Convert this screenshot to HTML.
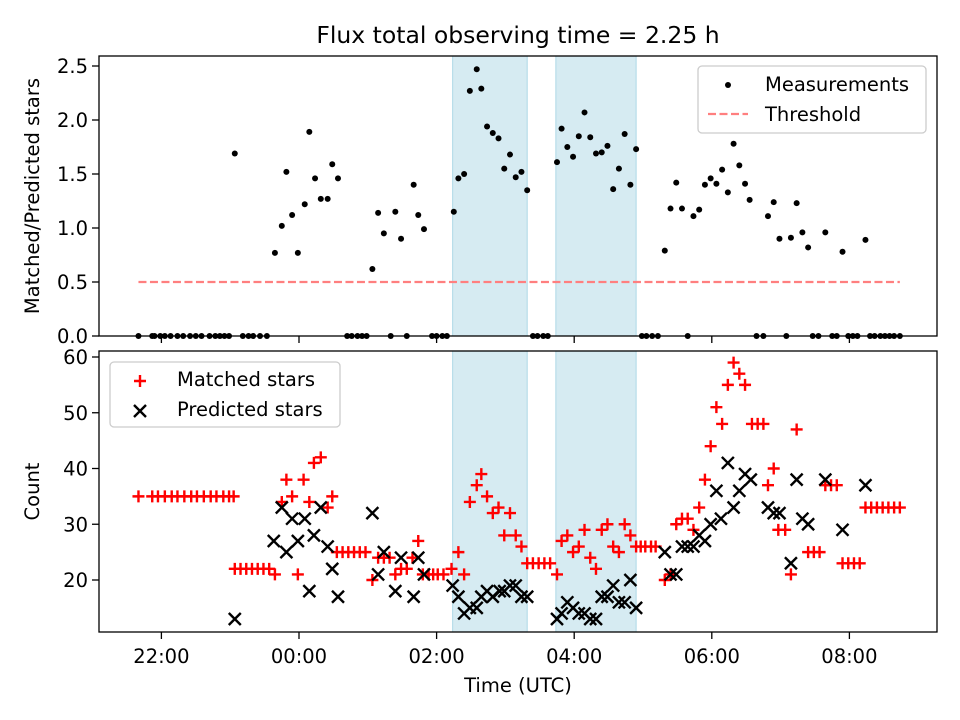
<!DOCTYPE html>
<html><head><meta charset="utf-8"><style>
body{margin:0;background:#fff}
svg{display:block;font-family:"DejaVu Sans","Liberation Sans",sans-serif}
</style></head><body>
<svg id="fig" width="960" height="720" viewBox="0 0 960 720">
<rect width="960" height="720" fill="#fff"/>
<text x="518" y="43" font-size="23.5" text-anchor="middle">Flux total observing time = 2.25 h</text>
<g id="topPanel"></g>
<g id="botPanel"></g>
</svg>
<script>
// times in minutes from 00:00 UTC
const ratioTimes=[-56,-21,-15,-11,-6,-1,5,9,14,19,25,29,34,64,69,74,84,89,100,104,109,135,139,144,149,155,159,164,169,174,179,184,189,194,199,225,229,234,239,244,249,254,259,264,269,274,279,284,289,294,319,324,329,334,344,349,354,359,364,369,374,379,384,389,393,409,414,419,429,434,439,444,459,474,494];
const ratioValues=[1.69,0.77,1.02,1.52,1.12,0.77,1.22,1.89,1.46,1.27,1.27,1.59,1.46,0.62,1.14,0.95,1.15,0.90,1.40,1.12,0.99,1.15,1.46,1.50,2.27,2.47,2.29,1.94,1.88,1.83,1.55,1.68,1.47,1.52,1.35,1.61,1.92,1.75,1.66,1.85,2.07,1.84,1.69,1.70,1.76,1.36,1.55,1.87,1.40,1.73,0.79,1.18,1.42,1.18,1.11,1.17,1.40,1.46,1.41,1.54,1.33,1.78,1.58,1.41,1.26,1.11,1.24,0.90,0.91,1.23,0.96,0.82,0.96,0.78,0.89];
const zeroTimes=[-140,-128,-126,-121,-117,-112,-106,-101,-95,-90,-85,-78,-73,-69,-65,-61,-49,-44,-40,-34,-28,42,46,51,55,59,80,94,116,120,125,129,204,208,213,217,299,303,308,313,339,399,405,425,448,453,465,469,479,483,487,498,502,507,511,515,519,524];
const thresholdValue=0.5;
const thresholdRange=[-140,524];
const shadedSpans=[[134,199],[224,294]];
const matchedTimes=[-140,-128,-123,-117,-111,-106,-100,-94,-89,-83,-77,-72,-66,-61,-57,-56,-51,-46,-41,-36,-31,-26,-21,-15,-11,-6,-1,4,9,13,19,25,29,33,38,43,48,53,58,64,69,74,79,84,89,94,99,104,108,113,117,121,126,133,139,144,149,155,159,164,169,174,179,184,189,194,199,204,209,214,219,225,229,234,239,244,249,254,259,264,269,274,279,284,289,294,298,302,307,311,319,324,329,334,339,344,349,354,359,364,369,374,379,384,389,395,400,405,409,414,418,424,429,434,444,449,454,459,464,469,474,479,484,489,494,499,504,509,514,519,524];
const matchedValues=[35,35,35,35,35,35,35,35,35,35,35,35,35,35,35,22,22,22,22,22,22,22,21,34,38,35,21,38,34,41,42,33,35,25,25,25,25,25,25,20,24,24,24,21,22,22,24,27,21,21,21,21,21,22,25,21,34,37,39,35,32,33,28,32,28,26,23,23,23,23,23,21,27,28,25,26,29,24,22,29,30,26,25,30,28,26,26,26,26,26,20,21,30,31,31,29,33,38,44,51,48,55,59,57,55,48,48,48,37,40,29,29,21,47,25,25,25,37,37,37,23,23,23,23,33,33,33,33,33,33,33];
const predictedTimes=[-56,-22,-15,-11,-6,-1,5,9,13,19,25,29,34,64,69,74,84,89,100,104,109,134,139,144,149,155,159,164,169,175,179,184,189,194,199,225,229,234,239,244,249,254,259,264,269,274,279,284,289,294,319,324,329,334,339,344,349,354,359,364,368,374,379,384,389,394,409,414,419,429,434,439,444,459,474,494];
const predictedValues=[13,27,33,25,31,27,31,18,28,33,26,22,17,32,21,25,18,24,17,24,21,19,17,14,15,15,17,18,17,18,18,19,19,17,17,13,14,16,15,14,14,13,13,17,17,19,16,16,20,15,25,21,21,26,26,26,28,27,30,36,31,41,33,36,39,38,33,32,32,23,38,31,30,38,29,37];
const xTickLabels=["22:00","00:00","02:00","04:00","06:00","08:00"];
const xTickMinutes=[-120,0,120,240,360,480];
const ratioTicks=[0,0.5,1,1.5,2,2.5];
const countTicks=[20,30,40,50,60];

const NS="http://www.w3.org/2000/svg";
const L=99,R=937,FS=19.5;
const xs=m=>299+m*68.8/60;
const yTop=v=>336-v*108;
const yBot=v=>357+(60-v)*5.575;
function el(p,tag,a){const e=document.createElementNS(NS,tag);for(const k in a)e.setAttribute(k,a[k]);p.appendChild(e);return e;}
const topG=document.getElementById('topPanel'),botG=document.getElementById('botPanel');

function panel(g,y0,y1,ticks,yf,fmt,ylabel,name){
  shadedSpans.forEach((s,i)=>{
    const r=el(g,'rect',{x:xs(s[0]),y:y0,width:xs(s[1])-xs(s[0]),height:y1-y0,fill:'#add8e6','fill-opacity':0.5,stroke:'#add8e6','stroke-width':1});
    
    
  });
  ticks.forEach(t=>{
    const y=yf(t);
    el(g,'line',{x1:L-7,x2:L,y1:y,y2:y,stroke:'#000','stroke-width':1.3});
    const tx=el(g,'text',{x:L-11,y:y+7,'font-size':FS,'text-anchor':'end'});tx.textContent=fmt(t);
    
    
  });
  xTickMinutes.forEach(m=>{el(g,'line',{x1:xs(m),x2:xs(m),y1:y1,y2:y1+7,stroke:'#000','stroke-width':1.3});});
  const yl=el(g,'text',{x:0,y:0,'font-size':FS,'text-anchor':'middle',transform:`translate(39,${(y0+y1)/2}) rotate(-90)`});
  yl.textContent=ylabel;
  
  
}
panel(topG,56,336,ratioTicks,yTop,t=>t.toFixed(1),'Matched/Predicted stars','ratio');
panel(botG,351,632,countTicks,yBot,t=>String(t),'Count','count');

const th=el(topG,'line',{x1:xs(thresholdRange[0]),x2:xs(thresholdRange[1]),y1:yTop(thresholdValue),y2:yTop(thresholdValue),stroke:'#ff7f7f','stroke-width':2.2,'stroke-dasharray':'8,3.5'});


ratioTimes.forEach((t,i)=>{
  const c=el(topG,'circle',{cx:xs(t),cy:yTop(ratioValues[i]),r:3,fill:'#000'});
  
  
});
zeroTimes.forEach(t=>{
  const c=el(topG,'circle',{cx:xs(t),cy:yTop(0),r:3,fill:'#000'});
  
  
});
function plus(g,x,y,s,col){el(g,'path',{d:`M${x-s} ${y}H${x+s}M${x} ${y-s}V${y+s}`,stroke:col,'stroke-width':2.4,fill:'none'});}
function cross(g,x,y,s,col){el(g,'path',{d:`M${x-s} ${y-s}L${x+s} ${y+s}M${x-s} ${y+s}L${x+s} ${y-s}`,stroke:col,'stroke-width':2.4,fill:'none'});}
matchedTimes.forEach((t,i)=>{
  const g=el(botG,'g',{});
  
  
  plus(g,xs(t),yBot(matchedValues[i]),6,'#ff0000');
});
predictedTimes.forEach((t,i)=>{
  const g=el(botG,'g',{});
  
  
  cross(g,xs(t),yBot(predictedValues[i]),6,'#000');
});
[[56,336],[351,632]].forEach(([a,b])=>{
  const f=el(document.getElementById('fig'),'rect',{x:L,y:a,width:R-L,height:b-a,fill:'none',stroke:'#000','stroke-width':1.3});
  
  
});
xTickMinutes.forEach((m,i)=>{
  const tx=el(botG,'text',{x:xs(m),y:663,'font-size':FS,'text-anchor':'middle'});tx.textContent=xTickLabels[i];
  
  
});
const xl=el(botG,'text',{x:518,y:692,'font-size':FS,'text-anchor':'middle'});xl.textContent='Time (UTC)';



const lg1=el(topG,'g',{});


el(lg1,'rect',{x:698,y:66,width:228,height:67,rx:4,fill:'#fff','fill-opacity':0.8,stroke:'#ccc','stroke-width':1.3});
el(lg1,'circle',{cx:728,cy:85,r:3,fill:'#000'});
let t1=el(lg1,'text',{x:765,y:91,'font-size':FS});t1.textContent='Measurements';
el(lg1,'line',{x1:708,x2:748,y1:114,y2:114,stroke:'#ff7f7f','stroke-width':2.2,'stroke-dasharray':'8,3.5'});
let t2=el(lg1,'text',{x:765,y:121,'font-size':FS});t2.textContent='Threshold';
const lg2=el(botG,'g',{});


el(lg2,'rect',{x:110,y:362,width:230,height:65,rx:4,fill:'#fff','fill-opacity':0.8,stroke:'#ccc','stroke-width':1.3});
plus(lg2,140,381,6,'#ff0000');
let t3=el(lg2,'text',{x:177,y:386,'font-size':FS});t3.textContent='Matched stars';
cross(lg2,140,411,6,'#000');
let t4=el(lg2,'text',{x:177,y:416,'font-size':FS});t4.textContent='Predicted stars';
</script>
</body></html>
